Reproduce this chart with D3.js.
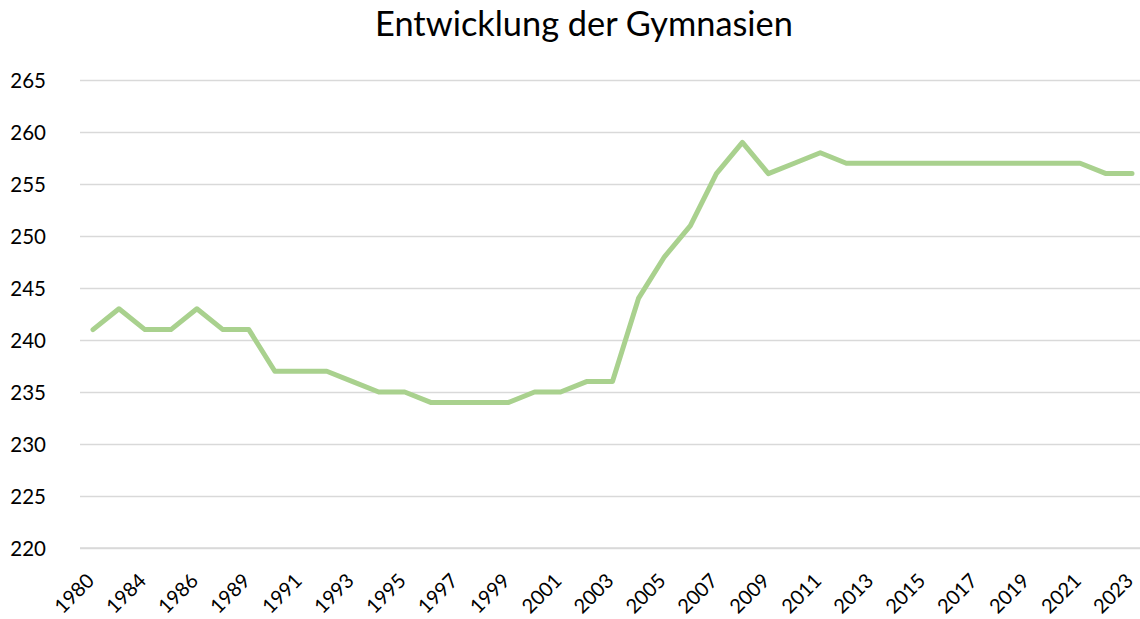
<!DOCTYPE html>
<html>
<head>
<meta charset="utf-8">
<script src="https://cdn.jsdelivr.net/npm/d3@7"></script>
<style>
  html, body { margin: 0; padding: 0; background: #fff; }
  svg { display: block; }
  text { font-family: Lato, "Open Sans", sans-serif; fill: #000; }
</style>
</head>
<body>
<svg id="chart" width="1140" height="619"></svg>
<script>
// Anzahl der Gymnasien je Erhebungsjahr
const years = [
  "1980", "1982", "1984", "1985", "1986", "1988", "1989", "1990", "1991", "1992",
  "1993", "1994", "1995", "1996", "1997", "1998", "1999", "2000", "2001", "2002",
  "2003", "2004", "2005", "2006", "2007", "2008", "2009", "2010", "2011", "2012",
  "2013", "2014", "2015", "2016", "2017", "2018", "2019", "2020", "2021", "2022",
  "2023"
];
const schools = [
  241, 243, 241, 241, 243, 241, 241, 237, 237, 237,
  236, 235, 235, 234, 234, 234, 234, 235, 235, 236,
  236, 244, 248, 251, 256, 259, 256, 257, 258, 257,
  257, 257, 257, 257, 257, 257, 257, 257, 257, 256,
  256
];
const yTicks = [220, 225, 230, 235, 240, 245, 250, 255, 260, 265];
const title = "Entwicklung der Gymnasien";

const svg = d3.select("#chart");
const plot = { left: 80, right: 1145, top: 80, bottom: 548 };

const x = d3.scalePoint()
  .domain(years)
  .range([plot.left, plot.right])
  .padding(0.5);

const y = d3.scaleLinear()
  .domain([220, 265])
  .range([plot.bottom, plot.top]);

// Title
const t = svg.append("text")
  .attr("x", 584)
  .attr("y", 36)
  .attr("text-anchor", "middle")
  .style("font-size", "28px")
  .text(title);
const tw = t.node().getComputedTextLength();
t.style("font-size", (28 * 418 / tw).toFixed(2) + "px");

// Horizontal gridlines and y labels
const yAxis = d3.axisLeft(y)
  .tickValues(yTicks)
  .tickSize(-(plot.right - plot.left))
  .tickPadding(34)
  .tickFormat(d3.format("d"));

const gy = svg.append("g")
  .attr("transform", `translate(${plot.left},0)`)
  .call(yAxis);
gy.select(".domain").remove();
gy.selectAll(".tick line")
  .attr("stroke", "#d9d9d9")
  .attr("stroke-width", 1.3);
gy.selectAll(".tick text")
  .style("font-size", "20.5px")
  .attr("dy", "0.36em");

// Category axis with every other year labelled
const xAxis = d3.axisBottom(x)
  .tickValues(years.filter((d, i) => i % 2 === 0))
  .tickSize(0)
  .tickPadding(0);

const gx = svg.append("g")
  .attr("transform", `translate(0,${plot.bottom})`)
  .call(xAxis);
gx.select(".domain").remove();
gx.selectAll(".tick text")
  .style("font-size", "20px")
  .attr("text-anchor", "end")
  .attr("dy", 0)
  .attr("y", 0)
  .attr("transform", "translate(2,34) rotate(-45)");

// Baseline of the plot area
svg.append("line")
  .attr("x1", plot.left)
  .attr("x2", plot.right)
  .attr("y1", plot.bottom)
  .attr("y2", plot.bottom)
  .attr("stroke", "#d9d9d9")
  .attr("stroke-width", 1.3);

// Series line
const line = d3.line()
  .x((d, i) => x(years[i]))
  .y(d => y(d));

svg.append("path")
  .datum(schools)
  .attr("d", line)
  .attr("fill", "none")
  .attr("stroke", "#a9d18e")
  .attr("stroke-width", 5)
  .attr("stroke-linejoin", "round")
  .attr("stroke-linecap", "round");
</script>
</body>
</html>
